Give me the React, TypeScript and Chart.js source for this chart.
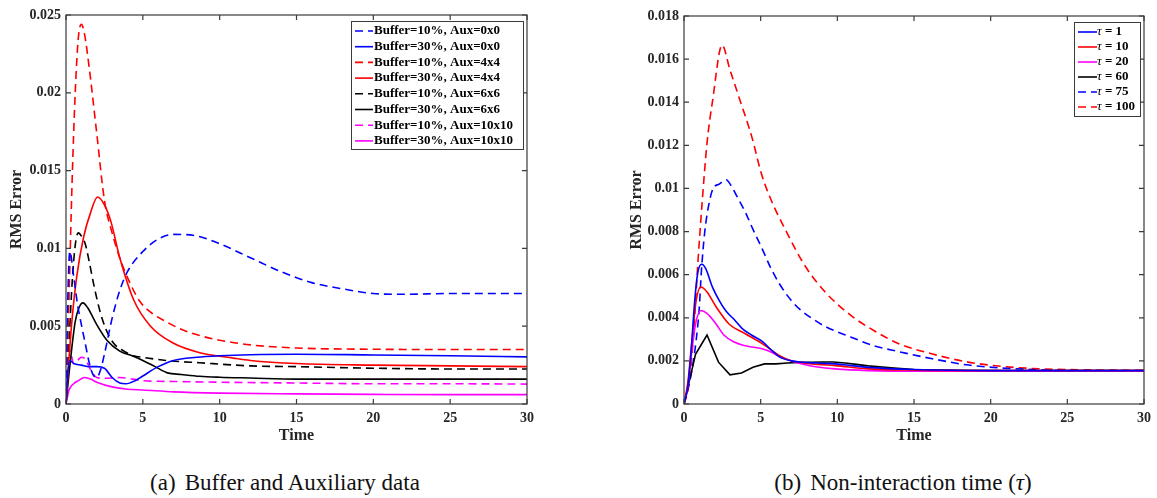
import React, { useEffect, useRef } from 'react';
import { Chart, registerables } from 'chart.js';
Chart.register(...registerables);

const FONT = "'Liberation Serif', 'Times New Roman', serif";
const INK = '#262626';

// ---------- (a) Buffer and Auxiliary data ----------
const xTicksA = [0, 5, 10, 15, 20, 25, 30];
const yTicksA = [0, 0.005, 0.01, 0.015, 0.02, 0.025];

const tB10A0 = [0, 0.1, 0.25, 0.5, 0.75, 1.0, 1.25, 1.5, 1.75, 2.0, 2.25, 2.5, 3.0, 3.5, 4.0, 5.0, 6.0, 7.0, 8.5, 10, 12, 14, 16, 18, 20, 22, 25, 30];
const vB10A0 = [0, 0.006, 0.0098, 0.0082, 0.0064, 0.0051, 0.0039, 0.0027, 0.0019, 0.0017, 0.0022, 0.0032, 0.0055, 0.0073, 0.0085, 0.0098, 0.0106, 0.0109, 0.0108, 0.0103, 0.0094, 0.0085, 0.0078, 0.0074, 0.0071, 0.00705, 0.0071, 0.0071];

const tB30A0 = [0, 0.1, 0.25, 0.5, 1.0, 1.5, 2.0, 2.5, 3.0, 3.5, 3.9, 4.5, 5.0, 6.0, 7.0, 8.5, 10, 12, 15, 20, 25, 30];
const vB30A0 = [0, 0.0018, 0.0028, 0.0026, 0.0025, 0.0024, 0.0024, 0.0023, 0.0017, 0.00135, 0.0013, 0.0015, 0.0018, 0.0024, 0.0028, 0.003, 0.0031, 0.00317, 0.0032, 0.00315, 0.0031, 0.00303];

const tB10A4 = [0, 0.2, 0.4, 0.6, 0.8, 1.0, 1.2, 1.5, 2.0, 2.5, 3.0, 3.6, 4.2, 4.8, 5.5, 6.5, 7.5, 8.7, 10, 12, 15, 20, 25, 30];
const vB10A4 = [0, 0.007, 0.0144, 0.02, 0.0235, 0.0244, 0.0238, 0.0217, 0.0174, 0.0131, 0.011, 0.0091, 0.0077, 0.0066, 0.0059, 0.0053, 0.0048, 0.0044, 0.0041, 0.0038, 0.0036, 0.00352, 0.0035, 0.0035];

const tB30A4 = [0, 0.2, 0.4, 0.7, 1.15, 1.6, 2.05, 2.5, 2.9, 3.5, 4.4, 5.5, 7.0, 8.7, 10.9, 12, 15, 20, 25, 30];
const vB30A4 = [0, 0.003, 0.0055, 0.0082, 0.01075, 0.0123, 0.0133, 0.0128, 0.0118, 0.0094, 0.0067, 0.005, 0.0039, 0.0033, 0.00295, 0.0028, 0.0026, 0.0025, 0.00245, 0.0024];

const tB10A6 = [0, 0.2, 0.4, 0.6, 0.8, 1.0, 1.25, 1.5, 1.8, 2.2, 2.6, 3.1, 3.6, 4.4, 5.0, 6.5, 8.7, 12, 15, 20, 25, 30];
const vB10A6 = [0, 0.004, 0.0078, 0.0102, 0.011, 0.0108, 0.0103, 0.0092, 0.0077, 0.006, 0.0048, 0.0039, 0.0035, 0.0031, 0.003, 0.0028, 0.00265, 0.00245, 0.0024, 0.0023, 0.00225, 0.00225];

const tB30A6 = [0, 0.2, 0.4, 0.6, 0.85, 1.1, 1.4, 2.0, 2.66, 3.5, 4.3, 5.0, 5.8, 6.6, 7.5, 8.7, 10, 12, 15, 20, 25, 30];
const vB30A6 = [0, 0.002, 0.0038, 0.0053, 0.0062, 0.0065, 0.0062, 0.0051, 0.0041, 0.0034, 0.0031, 0.0028, 0.0024, 0.002, 0.0019, 0.00178, 0.00172, 0.00167, 0.0016, 0.0016, 0.0016, 0.0016];

const tB10A10 = [0, 0.1, 0.2, 0.35, 0.5, 0.75, 1.0, 1.25, 1.6, 2.0, 2.5, 3.5, 5, 7, 10, 15, 20, 25, 30];
const vB10A10 = [0, 0.002, 0.0036, 0.0031, 0.0026, 0.0028, 0.003, 0.0029, 0.0022, 0.0017, 0.00165, 0.0017, 0.0015, 0.00145, 0.0014, 0.00135, 0.0013, 0.0013, 0.00128];

const tB30A10 = [0, 0.2, 0.5, 0.8, 1.2, 1.6, 2.0, 3.0, 4.0, 5.0, 7.0, 10, 15, 20, 25, 30];
const vB30A10 = [0, 0.0009, 0.0013, 0.0015, 0.0017, 0.0016, 0.0014, 0.0011, 0.00095, 0.0009, 0.00078, 0.0007, 0.00065, 0.00062, 0.0006, 0.0006];

// ---------- (b) Non-interaction time ----------
const xTicksB = [0, 5, 10, 15, 20, 25, 30];
const yTicksB = [0, 0.002, 0.004, 0.006, 0.008, 0.01, 0.012, 0.014, 0.016, 0.018];

const tTau1 = [0, 0.25, 0.47, 0.7, 0.9, 1.15, 1.4, 1.87, 2.3, 2.75, 3.3, 3.8, 4.4, 5.1, 5.7, 6.2, 7.0, 7.7, 8.7, 9.85, 12, 15, 20, 25, 30];
const vTau1 = [0, 0.0008, 0.0025, 0.0048, 0.0061, 0.00648, 0.0063, 0.0054, 0.0048, 0.0043, 0.0039, 0.0035, 0.0032, 0.0029, 0.0025, 0.0022, 0.002, 0.00194, 0.0019, 0.00186, 0.0017, 0.0016, 0.00155, 0.00155, 0.00155];

const tTau10 = [0, 0.25, 0.5, 0.75, 1.1, 1.5, 2.1, 2.95, 4.0, 5.1, 5.7, 6.2, 7.0, 7.7, 8.7, 9.85, 12, 15, 20, 25, 30];
const vTau10 = [0, 0.001, 0.0028, 0.0046, 0.00543, 0.0052, 0.0045, 0.0037, 0.00326, 0.0028, 0.0025, 0.00225, 0.002, 0.00192, 0.00184, 0.00178, 0.00163, 0.00157, 0.00155, 0.00155, 0.00155];

const tTau20 = [0, 0.25, 0.5, 0.75, 1.1, 1.5, 2.1, 2.6, 3.2, 4.0, 5.1, 5.7, 6.2, 7.0, 7.7, 8.7, 9.85, 12, 15, 20, 25, 30];
const vTau20 = [0, 0.0008, 0.0024, 0.0037, 0.00434, 0.0042, 0.0037, 0.0032, 0.0029, 0.0027, 0.00256, 0.0024, 0.0022, 0.002, 0.00186, 0.00172, 0.00163, 0.00155, 0.00152, 0.00152, 0.00153, 0.00153];

const tTau60 = [0, 0.75, 1.5, 2.25, 3.0, 3.75, 4.5, 5.25, 6.0, 6.75, 7.5, 8.25, 9.0, 9.75, 10.5, 11.25, 12.0, 13.5, 15, 18, 21, 24, 27, 30];
const vTau60 = [0, 0.0023, 0.0032, 0.00194, 0.00135, 0.00144, 0.0017, 0.00186, 0.00186, 0.0019, 0.00193, 0.00194, 0.00195, 0.00195, 0.0019, 0.00184, 0.00177, 0.00168, 0.0016, 0.00156, 0.00155, 0.00155, 0.00155, 0.00155];

const tTau75 = [0, 0.5, 0.8, 1.0, 1.12, 1.34, 1.66, 1.9, 2.3, 2.74, 3.1, 3.4, 4.0, 4.5, 5.1, 5.6, 6.2, 7.0, 7.7, 8.5, 9.2, 10.9, 12.4, 14, 16.2, 18.4, 20.5, 22.7, 25, 30];
const vTau75 = [0, 0.0015, 0.003, 0.0045, 0.006, 0.0079, 0.0094, 0.01, 0.0102, 0.0104, 0.0101, 0.0097, 0.0089, 0.0081, 0.0072, 0.0064, 0.0056, 0.0048, 0.0043, 0.0039, 0.0036, 0.0031, 0.0027, 0.00243, 0.0021, 0.00182, 0.00168, 0.0016, 0.00155, 0.00155];

const tTau100 = [0, 0.3, 0.6, 0.9, 1.2, 1.5, 1.87, 2.48, 3.0, 3.6, 4.46, 5.0, 5.6, 6.6, 7.9, 9.2, 10.9, 12.4, 14, 16.2, 18.4, 20.5, 22.7, 25, 30];
const vTau100 = [0, 0.0008, 0.003, 0.0065, 0.0095, 0.0121, 0.0141, 0.01665, 0.0155, 0.0142, 0.0123, 0.0108, 0.0096, 0.0081, 0.0064, 0.0052, 0.0041, 0.0034, 0.0028, 0.00232, 0.00196, 0.00176, 0.00165, 0.0016, 0.00156];

const BLUE = '#0000ff';
const RED = '#ff0000';
const BLACK = '#000000';
const MAGENTA = '#ff00ff';
const DASH = [8, 5];

type Series = { label: string; t: number[]; v: number[]; color: string; dashed: boolean; smooth: boolean };

const seriesA: Series[] = [
  { label: 'Buffer=10%, Aux=0x0', t: tB10A0, v: vB10A0, color: BLUE, dashed: true, smooth: true },
  { label: 'Buffer=30%, Aux=0x0', t: tB30A0, v: vB30A0, color: BLUE, dashed: false, smooth: true },
  { label: 'Buffer=10%, Aux=4x4', t: tB10A4, v: vB10A4, color: RED, dashed: true, smooth: true },
  { label: 'Buffer=30%, Aux=4x4', t: tB30A4, v: vB30A4, color: RED, dashed: false, smooth: true },
  { label: 'Buffer=10%, Aux=6x6', t: tB10A6, v: vB10A6, color: BLACK, dashed: true, smooth: true },
  { label: 'Buffer=30%, Aux=6x6', t: tB30A6, v: vB30A6, color: BLACK, dashed: false, smooth: true },
  { label: 'Buffer=10%, Aux=10x10', t: tB10A10, v: vB10A10, color: MAGENTA, dashed: true, smooth: true },
  { label: 'Buffer=30%, Aux=10x10', t: tB30A10, v: vB30A10, color: MAGENTA, dashed: false, smooth: true },
];

const seriesB: Series[] = [
  { label: 'τ = 1', t: tTau1, v: vTau1, color: BLUE, dashed: false, smooth: true },
  { label: 'τ = 10', t: tTau10, v: vTau10, color: RED, dashed: false, smooth: true },
  { label: 'τ = 20', t: tTau20, v: vTau20, color: MAGENTA, dashed: false, smooth: true },
  { label: 'τ = 60', t: tTau60, v: vTau60, color: BLACK, dashed: false, smooth: false },
  { label: 'τ = 75', t: tTau75, v: vTau75, color: BLUE, dashed: true, smooth: true },
  { label: 'τ = 100', t: tTau100, v: vTau100, color: RED, dashed: true, smooth: true },
];

const fmt = (v: number) => (v === 0 ? '0' : String(Number(Number(v).toFixed(4))));

const framePlugin = {
  id: 'frame',
  afterDatasetsDraw(chart: any) {
    const { ctx, chartArea: a, scales } = chart;
    const L = 5;
    ctx.save();
    ctx.strokeStyle = '#3a3a3a';
    ctx.lineWidth = 1.2;
    ctx.setLineDash([]);
    ctx.strokeRect(a.left, a.top, a.right - a.left, a.bottom - a.top);
    ctx.beginPath();
    scales.x.ticks.forEach((t: any) => {
      const px = scales.x.getPixelForValue(t.value);
      ctx.moveTo(px, a.bottom);
      ctx.lineTo(px, a.bottom - L);
      ctx.moveTo(px, a.top);
      ctx.lineTo(px, a.top + L);
    });
    scales.y.ticks.forEach((t: any) => {
      const py = scales.y.getPixelForValue(t.value);
      ctx.moveTo(a.left, py);
      ctx.lineTo(a.left + L, py);
      ctx.moveTo(a.right, py);
      ctx.lineTo(a.right - L, py);
    });
    ctx.stroke();
    ctx.restore();
  },
};

const legendPlugin = {
  id: 'boxLegend',
  afterDraw(chart: any, _args: any, o: any) {
    const ctx = chart.ctx;
    ctx.save();
    ctx.fillStyle = '#ffffff';
    ctx.fillRect(o.x, o.y, o.w, o.h);
    ctx.strokeStyle = '#3a3a3a';
    ctx.lineWidth = 1;
    ctx.strokeRect(o.x + 0.5, o.y + 0.5, o.w, o.h);
    chart.data.datasets.forEach((ds: any, i: number) => {
      const cy = o.y + o.first + i * o.rowH;
      ctx.strokeStyle = ds.borderColor;
      ctx.lineWidth = ds.borderWidth;
      ctx.setLineDash(ds.borderDash || []);
      ctx.beginPath();
      ctx.moveTo(o.x + o.sx, cy);
      ctx.lineTo(o.x + o.sx + o.sl, cy);
      ctx.stroke();
      ctx.setLineDash([]);
      ctx.fillStyle = '#000';
      ctx.textBaseline = 'middle';
      ctx.textAlign = 'left';
      let tx = o.x + o.tx;
      const label: string = ds.label;
      if (label.startsWith('τ')) {
        ctx.font = `italic ${o.size}px ${FONT}`;
        ctx.fillText('τ', tx, cy);
        tx += ctx.measureText('τ').width;
        ctx.font = `bold ${o.size}px ${FONT}`;
        ctx.fillText(label.slice(1), tx, cy);
      } else {
        ctx.font = `bold ${o.size}px ${FONT}`;
        ctx.fillText(label, tx, cy);
      }
    });
    ctx.restore();
  },
};

function makeConfig(series: Series[], xTicks: number[], yTicks: number[], yAxisW: number, pad: any, legend: any) {
  const yMax = yTicks[yTicks.length - 1];
  const yStep = yTicks[1] - yTicks[0];
  const xMax = xTicks[xTicks.length - 1];
  const xStep = xTicks[1] - xTicks[0];
  return {
    type: 'line',
    data: {
      datasets: series.map((s) => ({
        label: s.label,
        data: s.t.map((x, i) => ({ x, y: s.v[i] })),
        borderColor: s.color,
        backgroundColor: s.color,
        borderWidth: 1.6,
        borderDash: s.dashed ? DASH : [],
        pointRadius: 0,
        fill: false,
        cubicInterpolationMode: s.smooth ? 'monotone' : 'default',
        tension: 0,
      })),
    },
    options: {
      animation: false,
      responsive: false,
      devicePixelRatio: 1,
      events: [],
      layout: { padding: pad },
      plugins: { legend: { display: false }, tooltip: { enabled: false }, boxLegend: legend },
      scales: {
        x: {
          type: 'linear',
          min: 0,
          max: xMax,
          grid: { display: false, drawTicks: false },
          border: { display: false },
          ticks: { stepSize: xStep, padding: 6, color: INK, font: { family: FONT, size: 14, weight: 'bold' } },
          title: { display: true, text: 'Time', color: INK, padding: { top: 0, bottom: 5 }, font: { family: FONT, size: 16, weight: 'bold' } },
          afterFit: (s: any) => { s.height = 46; },
        },
        y: {
          type: 'linear',
          min: 0,
          max: yMax,
          grid: { display: false, drawTicks: false },
          border: { display: false },
          ticks: { stepSize: yStep, padding: 5, color: INK, callback: (v: any) => fmt(v), font: { family: FONT, size: 14, weight: 'bold' } },
          title: { display: true, text: 'RMS Error', color: INK, padding: { top: 7, bottom: 0 }, font: { family: FONT, size: 16, weight: 'bold' } },
          afterFit: (s: any) => { s.width = yAxisW; },
        },
      },
    },
    plugins: [framePlugin, legendPlugin],
  };
}

function Panel({ left, width, cfg }: { left: number; width: number; cfg: any }) {
  const ref = useRef<HTMLCanvasElement | null>(null);
  useEffect(() => {
    if (!ref.current) return;
    const c = new Chart(ref.current, cfg);
    return () => c.destroy();
  }, []);
  return (
    <canvas ref={ref} width={width} height={460} style={{ position: 'absolute', left, top: 0, width, height: 460 }} />
  );
}

export default function App() {
  const cfgA = makeConfig(seriesA, xTicksA, yTicksA, 66, { left: 0, top: 15, right: 18, bottom: 10 }, {
    x: 351, y: 21, w: 172, h: 128, first: 10, rowH: 15.7, sx: 4, sl: 18, tx: 23, size: 13,
  });
  const cfgB = makeConfig(seriesB, xTicksB, yTicksB, 64, { left: 0, top: 16, right: 11, bottom: 10 }, {
    x: 454, y: 22, w: 66, h: 94, first: 10, rowH: 15, sx: 4, sl: 19, tx: 23, size: 13,
  });
  const cap: React.CSSProperties = {
    position: 'absolute', top: 470, height: 26, lineHeight: '26px', fontFamily: FONT, fontSize: 23,
    color: '#111', whiteSpace: 'nowrap', transform: 'translateX(-50%)',
  };
  return (
    <div style={{ position: 'absolute', left: 0, top: 0, width: 1157, height: 498, background: '#fff', overflow: 'hidden' }}>
      <Panel left={0} width={545} cfg={cfgA} />
      <Panel left={620} width={537} cfg={cfgB} />
      <div style={{ ...cap, left: 285 }}>
        <span>(a)</span><span style={{ marginLeft: 9 }}>Buffer and Auxiliary data</span>
      </div>
      <div style={{ ...cap, left: 903 }}>
        <span>(b)</span><span style={{ marginLeft: 9 }}>Non-interaction time (<i>τ</i>)</span>
      </div>
    </div>
  );
}
